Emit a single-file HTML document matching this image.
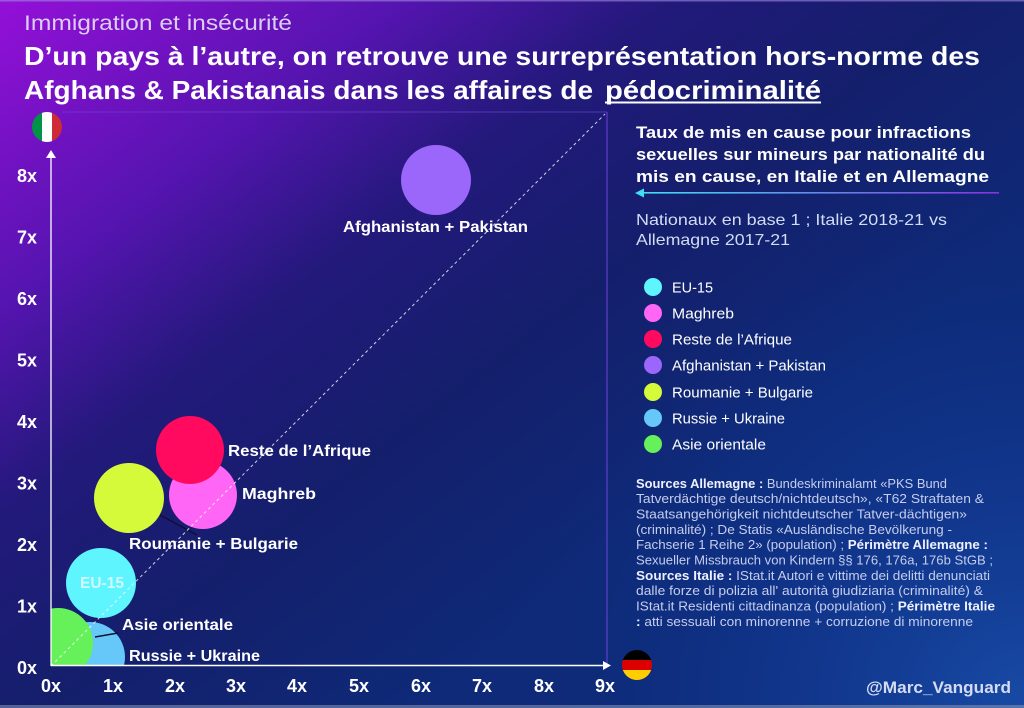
<!DOCTYPE html>
<html><head><meta charset="utf-8"><style>
html,body{margin:0;padding:0;background:#1a1a70;}
svg{display:block;}
text{font-family:"Liberation Sans",Arial,sans-serif;}
</style></head><body>
<svg width="1024" height="708" viewBox="0 0 1024 708" xmlns="http://www.w3.org/2000/svg">
<defs>
<linearGradient id="bg" gradientUnits="userSpaceOnUse" x1="0" y1="0" x2="500" y2="650">
<stop offset="0" stop-color="#9410d8"/>
<stop offset="0.3" stop-color="#5514b0"/>
<stop offset="0.5" stop-color="#22197a"/>
<stop offset="0.72" stop-color="#141f6c"/>
<stop offset="1" stop-color="#0e2a78"/>
</linearGradient>
<radialGradient id="blue" gradientUnits="userSpaceOnUse" cx="1024" cy="708" r="520">
<stop offset="0" stop-color="#1a52b0" stop-opacity="0.8"/>
<stop offset="0.6" stop-color="#1240a0" stop-opacity="0.3"/>
<stop offset="1" stop-color="#0e2a78" stop-opacity="0"/>
</radialGradient>
<linearGradient id="arr" x1="0" y1="0" x2="1" y2="0">
<stop offset="0" stop-color="#3fe0f2"/>
<stop offset="1" stop-color="#8a30e0"/>
</linearGradient>
<clipPath id="plot"><rect x="51" y="112" width="556" height="554"/></clipPath>
<clipPath id="itc"><circle cx="47" cy="127" r="15"/></clipPath>
<clipPath id="dec"><circle cx="637" cy="665" r="15"/></clipPath>
</defs>
<rect width="1024" height="708" fill="url(#bg)"/>
<rect width="1024" height="708" fill="url(#blue)"/>
<rect x="0" y="0" width="1024" height="1.5" fill="#a088e0" opacity="0.6"/>
<rect x="0" y="705" width="1024" height="3" fill="#8090b0" opacity="0.6"/>

<!-- header -->
<text x="24" y="30" font-size="21" fill="#dccdf5" textLength="268" lengthAdjust="spacingAndGlyphs">Immigration et insécurité</text>
<text x="24" y="65" font-size="26" font-weight="bold" fill="#ffffff" textLength="956" lengthAdjust="spacingAndGlyphs">D’un pays à l’autre, on retrouve une surreprésentation hors-norme des</text>
<text x="24" y="99" font-size="26" font-weight="bold" fill="#ffffff" textLength="569" lengthAdjust="spacingAndGlyphs">Afghans &amp; Pakistanais dans les affaires de</text>
<text x="605" y="99" font-size="26" font-weight="bold" fill="#ffffff" textLength="216" lengthAdjust="spacingAndGlyphs">pédocriminalité</text>
<rect x="605" y="101.5" width="216" height="2" fill="#ffffff"/>

<!-- plot frame -->
<line x1="62" y1="112" x2="607" y2="112" stroke="#6a40d0" stroke-width="1" opacity="0.7"/>
<line x1="607" y1="112" x2="607" y2="665" stroke="#6a40d8" stroke-width="1.2" opacity="0.9"/>

<!-- bubbles -->
<g clip-path="url(#plot)">
<circle cx="90" cy="657" r="35" fill="#66c8f8"/>
<circle cx="58" cy="643" r="35" fill="#66f05a"/>
<circle cx="101" cy="583" r="35" fill="#5ff5ff"/>
<circle cx="129" cy="498" r="35" fill="#d4fa3a"/>
<circle cx="203" cy="495" r="34" fill="#ff66f5"/>
<circle cx="190" cy="450" r="34" fill="#ff0a5f"/>
<circle cx="436" cy="180" r="35" fill="#9b66fa"/>
</g>

<!-- leader lines -->
<line x1="95" y1="637" x2="118" y2="633" stroke="#101030" stroke-width="1.5"/>
<line x1="160" y1="515" x2="197" y2="535" stroke="#101030" stroke-width="1.5"/>

<!-- diagonal -->
<line x1="51" y1="666" x2="605" y2="114" stroke="#ffffff" stroke-width="1" stroke-dasharray="3,3" opacity="0.8"/>

<!-- axes -->
<line x1="51" y1="666" x2="51" y2="156" stroke="#ffffff" stroke-width="1.3"/>
<polygon points="51,150 46,158 56,158" fill="#ffffff"/>
<line x1="51" y1="665.5" x2="604" y2="665.5" stroke="#ffffff" stroke-width="1.5"/>
<polygon points="611,665.5 603,661 603,670" fill="#ffffff"/>

<!-- flags -->
<g clip-path="url(#itc)">
<rect x="32" y="112" width="10" height="30" fill="#009246"/>
<rect x="42" y="112" width="10" height="30" fill="#ffffff"/>
<rect x="52" y="112" width="10" height="30" fill="#ce2b37"/>
</g>
<g clip-path="url(#dec)">
<rect x="622" y="650" width="30" height="10" fill="#000000"/>
<rect x="622" y="660" width="30" height="10" fill="#dd0000"/>
<rect x="622" y="670" width="30" height="10" fill="#ffce00"/>
</g>

<!-- y ticks -->
<g font-size="18" font-weight="bold" fill="#ffffff" text-anchor="end">
<text x="37" y="182">8x</text>
<text x="37" y="243.5">7x</text>
<text x="37" y="305">6x</text>
<text x="37" y="366.5">5x</text>
<text x="37" y="428">4x</text>
<text x="37" y="489.5">3x</text>
<text x="37" y="551">2x</text>
<text x="37" y="612.5">1x</text>
<text x="37" y="674">0x</text>
</g>
<!-- x ticks -->
<g font-size="18" font-weight="bold" fill="#ffffff" text-anchor="middle">
<text x="51" y="692">0x</text>
<text x="113" y="692">1x</text>
<text x="175" y="692">2x</text>
<text x="236" y="692">3x</text>
<text x="297" y="692">4x</text>
<text x="359" y="692">5x</text>
<text x="421" y="692">6x</text>
<text x="482" y="692">7x</text>
<text x="544" y="692">8x</text>
<text x="605" y="692">9x</text>
</g>

<!-- bubble labels -->
<g font-size="16" font-weight="bold" fill="#ffffff">
<text x="343" y="232" textLength="185" lengthAdjust="spacingAndGlyphs">Afghanistan + Pakistan</text>
<text x="228" y="456" textLength="143" lengthAdjust="spacingAndGlyphs">Reste de l’Afrique</text>
<text x="242" y="499" textLength="74" lengthAdjust="spacingAndGlyphs">Maghreb</text>
<text x="129" y="549" textLength="169" lengthAdjust="spacingAndGlyphs">Roumanie + Bulgarie</text>
<text x="80" y="588" textLength="44" lengthAdjust="spacingAndGlyphs" fill="#e4fcff" opacity="0.85">EU-15</text>
<text x="122" y="630" textLength="111" lengthAdjust="spacingAndGlyphs">Asie orientale</text>
<text x="129" y="661" textLength="131" lengthAdjust="spacingAndGlyphs">Russie + Ukraine</text>
</g>

<!-- right panel -->
<g font-size="17" font-weight="bold" fill="#ffffff">
<text x="636" y="138" textLength="335" lengthAdjust="spacingAndGlyphs">Taux de mis en cause pour infractions</text>
<text x="636" y="160" textLength="349" lengthAdjust="spacingAndGlyphs">sexuelles sur mineurs par nationalité du</text>
<text x="636" y="182" textLength="353" lengthAdjust="spacingAndGlyphs">mis en cause, en Italie et en Allemagne</text>
</g>
<rect x="642" y="192" width="357" height="1.6" fill="url(#arr)"/>
<polygon points="635,193 644,188.5 644,197.5" fill="#3fe0f2"/>
<g font-size="16" fill="#d2dcf4">
<text x="636" y="225" textLength="311" lengthAdjust="spacingAndGlyphs">Nationaux en base 1 ; Italie 2018-21 vs</text>
<text x="636" y="245" textLength="154" lengthAdjust="spacingAndGlyphs">Allemagne 2017-21</text>
</g>

<!-- legend -->
<circle cx="653" cy="287" r="9" fill="#5ff5ff"/>
<circle cx="653" cy="313" r="9" fill="#ff66f5"/>
<circle cx="653" cy="339" r="9" fill="#ff0a5f"/>
<circle cx="653" cy="365" r="9" fill="#9b66fa"/>
<circle cx="653" cy="392" r="9" fill="#d4fa3a"/>
<circle cx="653" cy="418" r="9" fill="#66c8f8"/>
<circle cx="653" cy="444" r="9" fill="#66f05a"/>
<g font-size="15" fill="#ffffff">
<text x="672" y="292.5" textLength="41" lengthAdjust="spacingAndGlyphs">EU-15</text>
<text x="672" y="318.5" textLength="62" lengthAdjust="spacingAndGlyphs">Maghreb</text>
<text x="672" y="344.5" textLength="120" lengthAdjust="spacingAndGlyphs">Reste de l’Afrique</text>
<text x="672" y="370.5" textLength="154" lengthAdjust="spacingAndGlyphs">Afghanistan + Pakistan</text>
<text x="672" y="397.5" textLength="141" lengthAdjust="spacingAndGlyphs">Roumanie + Bulgarie</text>
<text x="672" y="423.5" textLength="113" lengthAdjust="spacingAndGlyphs">Russie + Ukraine</text>
<text x="672" y="449.5" textLength="94" lengthAdjust="spacingAndGlyphs">Asie orientale</text>
</g>

<!-- sources -->
<g font-size="13" fill="#c5cdee">
<text x="636" y="488" textLength="311" lengthAdjust="spacingAndGlyphs"><tspan font-weight="bold" fill="#eef0ff">Sources Allemagne :</tspan> Bundeskriminalamt «PKS Bund</text>
<text x="636" y="503" textLength="348" lengthAdjust="spacingAndGlyphs">Tatverdächtige deutsch/nichtdeutsch», «T62 Straftaten &amp;</text>
<text x="636" y="518.5" textLength="331" lengthAdjust="spacingAndGlyphs">Staatsangehörigkeit nichtdeutscher Tatver-dächtigen»</text>
<text x="636" y="534" textLength="316" lengthAdjust="spacingAndGlyphs">(criminalité) ; De Statis «Ausländische Bevölkerung -</text>
<text x="636" y="549" textLength="352" lengthAdjust="spacingAndGlyphs">Fachserie 1 Reihe 2» (population) ; <tspan font-weight="bold" fill="#eef0ff">Périmètre Allemagne :</tspan></text>
<text x="636" y="564.5" textLength="357" lengthAdjust="spacingAndGlyphs">Sexueller Missbrauch von Kindern §§ 176, 176a, 176b StGB ;</text>
<text x="636" y="580" textLength="354" lengthAdjust="spacingAndGlyphs"><tspan font-weight="bold" fill="#eef0ff">Sources Italie :</tspan> IStat.it Autori e vittime dei delitti denunciati</text>
<text x="636" y="595" textLength="347" lengthAdjust="spacingAndGlyphs">dalle forze di polizia all' autorità giudiziaria (criminalité) &amp;</text>
<text x="636" y="610.5" textLength="359" lengthAdjust="spacingAndGlyphs">IStat.it Residenti cittadinanza (population) ; <tspan font-weight="bold" fill="#eef0ff">Périmètre Italie</tspan></text>
<text x="636" y="626" textLength="337" lengthAdjust="spacingAndGlyphs"><tspan font-weight="bold" fill="#eef0ff">:</tspan> atti sessuali con minorenne + corruzione di minorenne</text>
</g>

<text x="866" y="693" font-size="17" font-weight="bold" fill="#d4dcf4" textLength="145" lengthAdjust="spacingAndGlyphs">@Marc_Vanguard</text>
</svg>
</body></html>
